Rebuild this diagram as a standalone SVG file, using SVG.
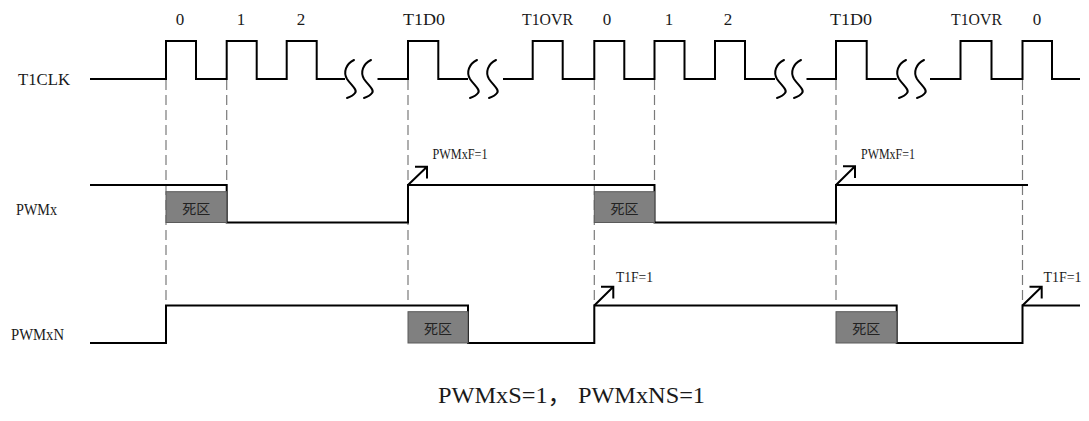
<svg xmlns="http://www.w3.org/2000/svg" width="1089" height="421" viewBox="0 0 1089 421">
<defs>
<style>
.sig{fill:none;stroke:#000;stroke-width:2;stroke-linejoin:miter}
.sq{fill:none;stroke:#000;stroke-width:2;stroke-linecap:round}
.dash{fill:none;stroke:#7a7a7a;stroke-width:1.2;stroke-dasharray:10 5}
.dz{fill:#808080;stroke:#5a5a5a;stroke-width:1}
.dzt{font-family:"Liberation Serif","Noto Sans CJK SC",serif;font-size:14px;fill:#222;text-anchor:middle}
.lbl{font-family:"Liberation Serif","Noto Sans CJK SC",serif;font-size:17px;fill:#1a1a1a}
.top{font-family:"Liberation Serif","Noto Sans CJK SC",serif;font-size:17px;fill:#1a1a1a;text-anchor:middle}
.small{font-family:"Liberation Serif","Noto Sans CJK SC",serif;font-size:15px;fill:#1a1a1a}
.cap{font-family:"Liberation Serif","Noto Sans CJK SC",serif;font-size:23px;fill:#1a1a1a}
.arr{fill:none;stroke:#000;stroke-width:2}
</style>
</defs>
<rect width="1089" height="421" fill="#fff"/>

<g id="connectors">
<path class="dash" d="M166 80V305"/>
<path class="dash" d="M226.7 80V185"/>
<path class="dash" d="M408 80V305"/>
<path class="dash" d="M594.3 80V305"/>
<path class="dash" d="M654.5 80V185"/>
<path class="dash" d="M836 80V305"/>
<path class="dash" d="M1022.5 80V305"/>
</g>

<g id="t1clk">
<text class="lbl" x="18" y="85" textLength="52" lengthAdjust="spacingAndGlyphs">T1CLK</text>
<path class="sig" d="M90 79H166V41H196V79H226.7V41H256.7V79H286.7V41H316.7V79H345"/>
<path class="sig" d="M377.5 79H408V41H438.3V79H468"/>
<path class="sig" d="M503 79H532.7V41H562.7V79H594.3V41H624.3V79H654.5V41H684.5V79H715V41H745V79H775"/>
<path class="sig" d="M806.5 79H836V41H866.7V79H896.7"/>
<path class="sig" d="M930 79H960.5V41H991.5V79H1022.5V41H1052V79H1080"/>
<g id="breaks">
<path class="sq" d="M354 60C346 64 343 72 347 79C351 85 358 90 355 93C353 96 350 97 347 98"/>
<path class="sq" d="M371 60C363 64 360 72 364 79C368 85 375 90 372 93C370 96 367 97 364 98"/>
<path class="sq" d="M477 60C469 64 466 72 470 79C474 85 481 90 478 93C476 96 473 97 470 98"/>
<path class="sq" d="M496 60C488 64 485 72 489 79C493 85 500 90 497 93C495 96 492 97 489 98"/>
<path class="sq" d="M784 60C776 64 773 72 777 79C781 85 788 90 785 93C783 96 780 97 777 98"/>
<path class="sq" d="M801 60C793 64 790 72 794 79C798 85 805 90 802 93C800 96 797 97 794 98"/>
<path class="sq" d="M906 60C898 64 895 72 899 79C903 85 910 90 907 93C905 96 902 97 899 98"/>
<path class="sq" d="M924 60C916 64 913 72 917 79C921 85 928 90 925 93C923 96 920 97 917 98"/>
</g>
<text class="top" x="180" y="25">0</text>
<text class="top" x="241" y="25">1</text>
<text class="top" x="301" y="25">2</text>
<text class="top" x="424" y="25" textLength="42" lengthAdjust="spacingAndGlyphs">T1D0</text>
<text class="top" x="547.5" y="25" textLength="51" lengthAdjust="spacingAndGlyphs">T1OVR</text>
<text class="top" x="607" y="25">0</text>
<text class="top" x="669" y="25">1</text>
<text class="top" x="728" y="25">2</text>
<text class="top" x="851" y="25" textLength="42" lengthAdjust="spacingAndGlyphs">T1D0</text>
<text class="top" x="976.5" y="25" textLength="51" lengthAdjust="spacingAndGlyphs">T1OVR</text>
<text class="top" x="1037" y="25">0</text>
</g>

<g id="pwmx">
<text class="lbl" x="16" y="215" textLength="41" lengthAdjust="spacingAndGlyphs">PWMx</text>
<path class="sig" d="M90 185H226.7V222.5H408V185H654.5V222.5H836V185H1028"/>
<rect class="dz" x="166" y="191.7" width="60.7" height="30.8"/>
<text class="dzt" x="196.3" y="214">死区</text>
<rect class="dz" x="594.3" y="191.7" width="60.2" height="30.8"/>
<text class="dzt" x="624.4" y="214">死区</text>
<path class="arr" d="M408 185L427 166.7M415 166.7H427V178.5"/>
<path class="arr" d="M836 185L855 166.2M843 166.2H855V178"/>
<text class="small" x="432.5" y="159" textLength="55" lengthAdjust="spacingAndGlyphs">PWMxF=1</text>
<text class="small" x="861" y="159" textLength="54" lengthAdjust="spacingAndGlyphs">PWMxF=1</text>
</g>

<g id="pwmxn">
<text class="lbl" x="11" y="340" textLength="53" lengthAdjust="spacingAndGlyphs">PWMxN</text>
<path class="sig" d="M90 343H166V305.5H468V343H594.3V305.5H896.7V343H1022.5V305.5H1080"/>
<rect class="dz" x="408" y="311.7" width="60" height="31.3"/>
<text class="dzt" x="438" y="334">死区</text>
<rect class="dz" x="836" y="311.7" width="60.7" height="31.3"/>
<text class="dzt" x="866.3" y="334">死区</text>
<path class="arr" d="M594.3 305.5L613.3 286.7M601 286.7H613.3V298.5"/>
<path class="arr" d="M1022.5 305.5L1041.7 286.7M1029.5 286.7H1041.7V298.5"/>
<text class="small" x="616" y="281.7" textLength="37" lengthAdjust="spacingAndGlyphs">T1F=1</text>
<text class="small" x="1043.5" y="281.7" textLength="38" lengthAdjust="spacingAndGlyphs">T1F=1</text>
</g>

<g id="caption">
<text class="cap" x="438" y="403" textLength="267" lengthAdjust="spacingAndGlyphs">PWMxS=1， PWMxNS=1</text>
</g>
</svg>
